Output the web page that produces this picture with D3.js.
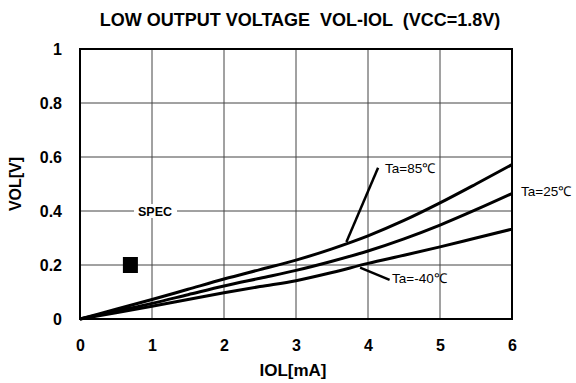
<!DOCTYPE html>
<html>
<head>
<meta charset="utf-8">
<script src="https://cdn.jsdelivr.net/npm/d3@7"></script>
<style>
  html, body { margin: 0; padding: 0; background: #fff; }
  svg { display: block; font-family: "Liberation Sans", Arial, sans-serif; }
  .title { white-space: pre; }
</style>
</head>
<body>
<svg id="chart" width="576" height="383"></svg>
<script>
// Output current IOL [mA] sample points
const iol = [0, 0.5, 1, 1.5, 2, 2.5, 3, 3.5, 4, 4.5, 5, 5.5, 6];
// VOL [V] per ambient temperature
const vol85 = [0, 0.036, 0.072, 0.110, 0.148, 0.183, 0.218, 0.260, 0.308, 0.365, 0.430, 0.500, 0.572];
const vol25 = [0, 0.029, 0.058, 0.090, 0.122, 0.151, 0.180, 0.214, 0.252, 0.297, 0.348, 0.405, 0.465];
const volM40 = [0, 0.023, 0.047, 0.072, 0.097, 0.120, 0.142, 0.172, 0.206, 0.236, 0.267, 0.300, 0.333];
const seriesNames = ["Ta=85℃", "Ta=25℃", "Ta=-40℃"];
// Specification point
const specIol = [0.7];
const specVol = [0.2];
const xTicks = [0, 1, 2, 3, 4, 5, 6];
const yTicks = [0, 0.2, 0.4, 0.6, 0.8, 1];
const yTickLabels = ["0", "0.2", "0.4", "0.6", "0.8", "1"];

const svg = d3.select("#chart");
const m = { left: 80, right: 64, top: 49, bottom: 64 };
const W = 576, H = 383;
const x = d3.scaleLinear().domain([0, 6]).range([m.left, W - m.right]);
const y = d3.scaleLinear().domain([0, 1]).range([H - m.bottom, m.top]);

// Title
svg.append("text")
  .attr("class", "title")
  .attr("x", 300).attr("y", 26)
  .attr("text-anchor", "middle")
  .attr("font-size", 18).attr("font-weight", "bold")
  .text("LOW OUTPUT VOLTAGE  VOL-IOL  (VCC=1.8V)");

// Grid
const grid = svg.append("g").attr("stroke", "#444").attr("stroke-width", 1);
grid.selectAll("line.v").data(xTicks.slice(1, -1)).join("line")
  .attr("x1", d => x(d)).attr("x2", d => x(d))
  .attr("y1", y(0)).attr("y2", y(1));
grid.selectAll("line.h").data(yTicks.slice(1, -1)).join("line")
  .attr("x1", x(0)).attr("x2", x(6))
  .attr("y1", d => y(d)).attr("y2", d => y(d));

// Axes (labels only; frame drawn separately)
const xAxis = svg.append("g")
  .attr("transform", `translate(0,${y(0)})`)
  .call(d3.axisBottom(x).tickValues(xTicks).tickSize(0).tickPadding(21).tickFormat(d3.format("d")));
xAxis.select(".domain").remove();
xAxis.selectAll("text").attr("font-size", 16).attr("font-weight", "bold")
  .attr("font-family", "Liberation Sans, Arial, sans-serif").attr("fill", "#000");

const yAxis = svg.append("g")
  .attr("transform", `translate(${x(0)},0)`)
  .call(d3.axisLeft(y).tickValues(yTicks).tickSize(0).tickPadding(18)
    .tickFormat((d, i) => yTickLabels[i]));
yAxis.select(".domain").remove();
yAxis.selectAll("text").attr("font-size", 16).attr("font-weight", "bold")
  .attr("font-family", "Liberation Sans, Arial, sans-serif").attr("fill", "#000");

// Axis titles
svg.append("text")
  .attr("x", 293).attr("y", 376)
  .attr("text-anchor", "middle")
  .attr("font-size", 17).attr("font-weight", "bold")
  .text("IOL[mA]");
svg.append("text")
  .attr("transform", `translate(21,${y(0.5)}) rotate(-90)`)
  .attr("text-anchor", "middle")
  .attr("font-size", 16).attr("font-weight", "bold")
  .text("VOL[V]");

// SPEC label with white backing over the gridline
const specLabel = svg.append("g");
specLabel.append("rect")
  .attr("x", 134).attr("y", y(0.4) - 7).attr("width", 43).attr("height", 14)
  .attr("fill", "#fff");
specLabel.append("text")
  .attr("x", 155).attr("y", y(0.4) + 4.5)
  .attr("text-anchor", "middle")
  .attr("font-size", 12.5).attr("font-weight", "bold")
  .text("SPEC");

// Spec marker
svg.selectAll("rect.spec").data(specIol).join("rect")
  .attr("class", "spec")
  .attr("x", (d) => x(d) - 7.5).attr("y", (d, i) => y(specVol[i]) - 8)
  .attr("width", 15).attr("height", 16)
  .attr("fill", "#000");

// Curves
const series = [vol85, vol25, volM40];
const line = d3.line().x((d, i) => x(iol[i])).y(d => y(d)).curve(d3.curveMonotoneX);
svg.append("g").selectAll("path").data(series).join("path")
  .attr("d", line)
  .attr("fill", "none").attr("stroke", "#000").attr("stroke-width", 3)
  .attr("stroke-linejoin", "round");

// Frame
svg.append("rect")
  .attr("x", x(0)).attr("y", y(1))
  .attr("width", x(6) - x(0)).attr("height", y(0) - y(1))
  .attr("fill", "none").attr("stroke", "#000").attr("stroke-width", 2);

// Series labels with leader lines
const lab = svg.append("g").attr("font-size", 13.5);
lab.append("line")
  .attr("x1", x(3.70)).attr("y1", y(0.285))
  .attr("x2", x(4.14)).attr("y2", y(0.56))
  .attr("stroke", "#000").attr("stroke-width", 2.5);
lab.append("text").attr("x", 385).attr("y", y(0.54)).text(seriesNames[0]);
lab.append("text").attr("x", 521).attr("y", y(0.455)).text(seriesNames[1]);
lab.append("line")
  .attr("x1", x(3.89)).attr("y1", y(0.19))
  .attr("x2", x(4.30)).attr("y2", y(0.145))
  .attr("stroke", "#000").attr("stroke-width", 2.5);
lab.append("text").attr("x", 392).attr("y", y(0.133)).text(seriesNames[2]);
</script>
</body>
</html>
